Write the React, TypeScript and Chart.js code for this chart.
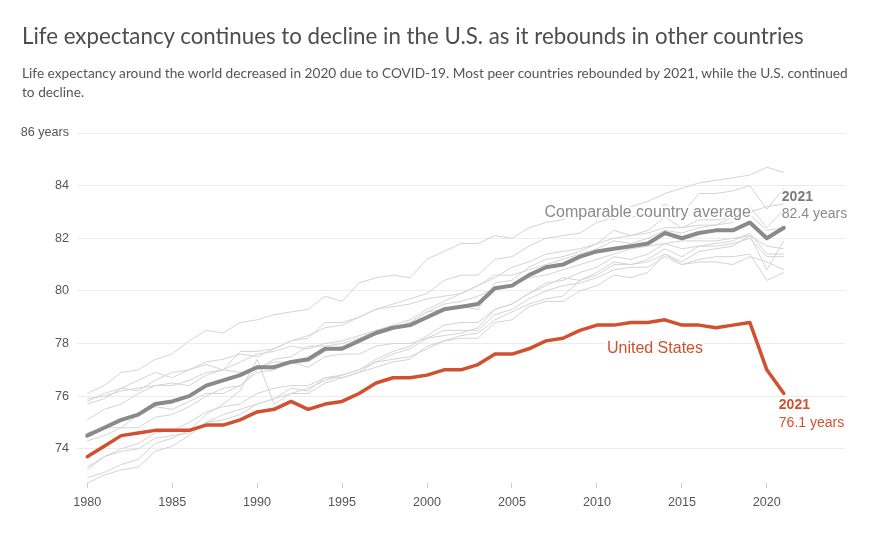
import React, { useEffect, useRef } from "react";
import { Chart, registerables } from "chart.js";

Chart.register(...registerables);

const years = [
  1980, 1981, 1982, 1983, 1984, 1985, 1986, 1987, 1988, 1989,
  1990, 1991, 1992, 1993, 1994, 1995, 1996, 1997, 1998, 1999,
  2000, 2001, 2002, 2003, 2004, 2005, 2006, 2007, 2008, 2009,
  2010, 2011, 2012, 2013, 2014, 2015, 2016, 2017, 2018, 2019,
  2020, 2021,
];

const usValues = [
  73.7, 74.1, 74.5, 74.6, 74.7, 74.7, 74.7, 74.9, 74.9, 75.1,
  75.4, 75.5, 75.8, 75.5, 75.7, 75.8, 76.1, 76.5, 76.7, 76.7,
  76.8, 77.0, 77.0, 77.2, 77.6, 77.6, 77.8, 78.1, 78.2, 78.5,
  78.7, 78.7, 78.8, 78.8, 78.9, 78.7, 78.7, 78.6, 78.7, 78.8,
  77.0, 76.1,
];

const averageValues = [
  74.5, 74.8, 75.1, 75.3, 75.7, 75.8, 76.0, 76.4, 76.6, 76.8,
  77.1, 77.1, 77.3, 77.4, 77.8, 77.8, 78.1, 78.4, 78.6, 78.7,
  79.0, 79.3, 79.4, 79.5, 80.1, 80.2, 80.6, 80.9, 81.0, 81.3,
  81.5, 81.6, 81.7, 81.8, 82.2, 82.0, 82.2, 82.3, 82.3, 82.6,
  82.0, 82.4,
];

const japan = [
  76.1, 76.4, 76.9, 77.0, 77.4, 77.6, 78.1, 78.5, 78.4, 78.8,
  78.9, 79.1, 79.2, 79.3, 79.8, 79.6, 80.3, 80.5, 80.6, 80.5,
  81.2, 81.5, 81.8, 81.8, 82.1, 82.0, 82.4, 82.6, 82.7, 83.0,
  82.9, 82.7, 83.2, 83.4, 83.7, 83.9, 84.1, 84.2, 84.3, 84.4,
  84.7, 84.5,
];
const switzerland = [
  75.7, 75.9, 76.3, 76.2, 76.6, 76.9, 77.0, 77.3, 77.4, 77.6,
  77.5, 77.8, 78.1, 78.3, 78.6, 78.7, 79.0, 79.3, 79.5, 79.7,
  79.9, 80.4, 80.6, 80.6, 81.2, 81.3, 81.7, 82.0, 82.1, 82.2,
  82.6, 82.8, 82.8, 82.9, 83.3, 82.9, 83.7, 83.7, 83.8, 84.0,
  83.1, 83.9,
];
const australia = [
  74.6, 74.8, 74.8, 75.3, 75.6, 75.5, 75.8, 76.1, 76.1, 76.4,
  77.0, 77.4, 77.5, 77.9, 77.9, 78.0, 78.2, 78.5, 78.7, 78.9,
  79.3, 79.6, 79.9, 80.2, 80.5, 80.9, 81.1, 81.4, 81.5, 81.6,
  81.8, 82.0, 82.1, 82.2, 82.4, 82.4, 82.5, 82.5, 82.8, 83.0,
  83.2, 83.3,
];
const sweden = [
  75.8, 76.1, 76.3, 76.6, 76.9, 76.7, 77.0, 77.2, 77.0, 77.7,
  77.7, 77.8, 78.1, 78.2, 78.8, 78.8, 79.0, 79.3, 79.4, 79.5,
  79.7, 79.8, 79.9, 80.2, 80.6, 80.6, 80.8, 81.0, 81.2, 81.4,
  81.6, 81.9, 81.8, 82.0, 82.3, 82.2, 82.4, 82.5, 82.6, 83.2,
  82.4, 83.1,
];
const france = [
  74.3, 74.5, 74.8, 74.8, 75.2, 75.3, 75.6, 76.0, 76.3, 76.4,
  76.9, 77.0, 77.3, 77.3, 77.7, 77.9, 78.1, 78.4, 78.6, 78.8,
  79.2, 79.3, 79.4, 79.3, 80.3, 80.4, 80.9, 81.2, 81.3, 81.5,
  81.8, 82.3, 82.1, 82.3, 82.8, 82.4, 82.7, 82.7, 82.8, 82.9,
  82.3, 82.4,
];
const netherlands = [
  75.9, 76.0, 76.2, 76.3, 76.4, 76.5, 76.4, 76.8, 77.0, 76.9,
  77.1, 77.3, 77.3, 77.1, 77.5, 77.6, 77.6, 77.9, 78.0, 78.0,
  78.2, 78.3, 78.4, 78.6, 79.3, 79.5, 79.9, 80.3, 80.4, 80.7,
  80.9, 81.3, 81.2, 81.4, 81.8, 81.6, 81.7, 81.8, 81.9, 82.2,
  81.4, 81.4,
];
const canada = [
  75.1, 75.5, 75.7, 76.1, 76.4, 76.4, 76.6, 76.9, 77.0, 77.3,
  77.6, 77.7, 77.9, 77.8, 78.0, 78.1, 78.3, 78.5, 78.6, 78.8,
  79.2, 79.5, 79.6, 79.8, 80.1, 80.2, 80.5, 80.6, 80.8, 81.0,
  81.2, 81.4, 81.6, 81.7, 81.8, 81.9, 81.9, 81.9, 82.0, 82.1,
  81.7, 81.6,
];
const austria = [
  72.7, 73.0, 73.2, 73.3, 73.9, 74.1, 74.5, 75.0, 75.3, 75.5,
  75.7, 75.9, 76.1, 76.3, 76.6, 76.8, 77.0, 77.4, 77.7, 77.9,
  78.3, 78.7, 78.8, 78.8, 79.3, 79.5, 79.9, 80.2, 80.5, 80.4,
  80.7, 81.1, 81.0, 81.2, 81.6, 81.3, 81.7, 81.7, 81.8, 82.0,
  81.3, 81.3,
];
const belgium = [
  73.3, 73.7, 74.0, 74.2, 74.6, 74.7, 75.0, 75.4, 75.6, 75.7,
  76.1, 76.3, 76.4, 76.4, 76.7, 76.8, 77.0, 77.3, 77.4, 77.5,
  77.8, 78.1, 78.2, 78.2, 78.8, 78.9, 79.4, 79.6, 79.6, 80.0,
  80.2, 80.6, 80.5, 80.7, 81.4, 81.1, 81.5, 81.6, 81.7, 82.1,
  80.8, 81.9,
];
const unitedKingdom = [
  73.2, 73.7, 73.9, 74.0, 74.4, 74.5, 74.6, 75.0, 75.1, 75.3,
  75.7, 75.9, 76.3, 76.2, 76.7, 76.7, 76.9, 77.1, 77.3, 77.4,
  77.9, 78.1, 78.3, 78.4, 78.9, 79.2, 79.5, 79.7, 79.8, 80.4,
  80.6, 81.0, 81.0, 81.1, 81.4, 81.0, 81.2, 81.3, 81.3, 81.4,
  80.4, 80.7,
];
const germany = [
  72.9, 73.1, 73.4, 73.6, 74.2, 74.4, 74.7, 75.3, 75.7, 76.2,
  77.4, 75.7, 76.1, 76.1, 76.5, 76.7, 76.9, 77.3, 77.6, 77.8,
  78.2, 78.5, 78.5, 78.5, 79.1, 79.3, 79.7, 80.0, 80.2, 80.3,
  80.5, 80.8, 80.9, 80.9, 81.3, 81.0, 81.1, 81.1, 81.0, 81.3,
  81.1, 80.8,
];

const countryNames = [
  "Japan", "Switzerland", "Australia", "Sweden", "France", "Netherlands",
  "Canada", "Austria", "Belgium", "United Kingdom", "Germany",
];
const countrySeries = [
  japan, switzerland, australia, sweden, france, netherlands,
  canada, austria, belgium, unitedKingdom, germany,
];

const yTicks = [74, 76, 78, 80, 82, 84, 86];
const xTicks = [1980, 1985, 1990, 1995, 2000, 2005, 2010, 2015, 2020];

const US_COLOR = "#d0502f";
const AVG_COLOR = "#8a8a8a";
const COUNTRY_COLOR = "#d4d4d4";
const SANS = "'Liberation Sans', Arial, Helvetica, sans-serif";

const toPoints = (vals: number[]) => years.map((yr, i) => ({ x: yr, y: vals[i] }));

function haloText(ctx: CanvasRenderingContext2D, text: string, x: number, y: number) {
  ctx.save();
  ctx.strokeStyle = "#ffffff";
  ctx.lineWidth = 4;
  ctx.lineJoin = "round";
  ctx.strokeText(text, x, y);
  ctx.restore();
  ctx.fillText(text, x, y);
}

const labelPlugin = {
  id: "endLabels",
  afterDatasetsDraw(chart: any) {
    const { ctx, scales } = chart;
    const xs = scales.x;
    const ys = scales.y;
    const last = years.length - 1;
    const endX = xs.getPixelForValue(years[last]);
    const i2019 = years.indexOf(2019);
    const i2010 = years.indexOf(2010);

    ctx.save();
    ctx.textBaseline = "middle";

    // Comparable country average label
    ctx.font = `16px ${SANS}`;
    ctx.fillStyle = "#8a8a8a";
    ctx.textAlign = "right";
    haloText(
      ctx,
      "Comparable country average",
      xs.getPixelForValue(years[i2019]) + 1,
      ys.getPixelForValue(averageValues[i2019]) - 10
    );

    // Average end label
    const avgEndY = ys.getPixelForValue(averageValues[last]);
    ctx.textAlign = "left";
    ctx.font = `bold 14px ${SANS}`;
    ctx.fillStyle = "#7a7a7a";
    haloText(ctx, String(years[last]), endX - 2, avgEndY - 31);
    ctx.font = `14px ${SANS}`;
    ctx.fillStyle = "#8a8a8a";
    haloText(ctx, `${averageValues[last].toFixed(1)} years`, endX - 2, avgEndY - 14);

    // United States label
    ctx.font = `16px ${SANS}`;
    ctx.fillStyle = US_COLOR;
    haloText(
      ctx,
      "United States",
      xs.getPixelForValue(years[i2010]) + 10,
      ys.getPixelForValue(usValues[i2010]) + 23
    );

    // US end label
    const usEndY = ys.getPixelForValue(usValues[last]);
    ctx.font = `bold 14px ${SANS}`;
    haloText(ctx, String(years[last]), endX - 5, usEndY + 12);
    ctx.font = `14px ${SANS}`;
    haloText(ctx, `${usValues[last].toFixed(1)} years`, endX - 5, usEndY + 30);

    ctx.restore();
  },
};

export default function App() {
  const canvasRef = useRef<HTMLCanvasElement>(null);

  useEffect(() => {
    const canvas = canvasRef.current;
    if (!canvas) return;

    const datasets: any[] = [
      {
        label: "United States",
        data: toPoints(usValues),
        borderColor: US_COLOR,
        borderWidth: 3.5,
        borderJoinStyle: "round",
        borderCapStyle: "round",
      },
      {
        label: "Comparable country average",
        data: toPoints(averageValues),
        borderColor: AVG_COLOR,
        borderWidth: 4,
        borderJoinStyle: "round",
        borderCapStyle: "round",
      },
      ...countrySeries.map((vals, i) => ({
        label: countryNames[i],
        data: toPoints(vals),
        borderColor: COUNTRY_COLOR,
        borderWidth: 1,
      })),
    ];

    const chart = new Chart(canvas, {
      type: "line",
      data: { datasets },
      options: {
        animation: false,
        responsive: false,
        maintainAspectRatio: false,
        layout: { padding: { top: 133, right: 35, bottom: 0, left: 0 } },
        elements: { point: { radius: 0, hoverRadius: 0 }, line: { tension: 0, fill: false } },
        plugins: {
          legend: { display: false },
          tooltip: { enabled: false },
          title: { display: false },
        },
        events: [],
        scales: {
          x: {
            type: "linear",
            min: 1979.4,
            max: 2024.6,
            afterBuildTicks: (s: any) => {
              s.ticks = xTicks.map((v) => ({ value: v }));
            },
            afterFit: (s: any) => {
              s.height = 50;
            },
            grid: {
              drawOnChartArea: false,
              drawTicks: true,
              tickLength: 5,
              color: "#cccccc",
              lineWidth: 1,
            },
            border: { display: false },
            ticks: {
              padding: 7,
              color: "#555555",
              autoSkip: false,
              maxRotation: 0,
              font: { family: SANS, size: 12.6 },
              callback: (v: any) => String(v),
            },
          },
          y: {
            type: "linear",
            min: 72.7,
            max: 86,
            afterBuildTicks: (s: any) => {
              s.ticks = yTicks.map((v) => ({ value: v }));
            },
            afterFit: (s: any) => {
              s.width = 77;
            },
            grid: { color: "#ececec", lineWidth: 1, drawTicks: false },
            border: { display: false },
            ticks: {
              padding: 8,
              color: "#555555",
              font: { family: SANS, size: 12.6 },
              callback: (v: any) => (v === 86 ? "86 years" : String(v)),
            },
          },
        },
      } as any,
      plugins: [labelPlugin],
    });

    return () => chart.destroy();
  }, []);

  return (
    <div
      style={{
        position: "absolute",
        left: 0,
        top: 0,
        width: 880,
        height: 533,
        background: "#ffffff",
        overflow: "hidden",
      }}
    >
      <canvas
        ref={canvasRef}
        width={880}
        height={533}
        style={{ position: "absolute", left: 0, top: 0, width: 880, height: 533, display: "block" }}
      />
      <div
        style={{
          position: "absolute",
          left: 22,
          top: 22.5,
          fontFamily: "Lato, sans-serif",
          fontSize: 22.3,
          lineHeight: "26.8px",
          color: "#4d4d4d",
          whiteSpace: "nowrap",
        }}
      >
        Life expectancy continues to decline in the U.S. as it rebounds in other countries
      </div>
      <div
        style={{
          position: "absolute",
          left: 22,
          top: 62.5,
          fontFamily: "Lato, sans-serif",
          fontSize: 13.7,
          lineHeight: "19px",
          color: "#555555",
          whiteSpace: "nowrap",
        }}
      >
        Life expectancy around the world decreased in 2020 due to COVID-19. Most peer countries rebounded by 2021, while the U.S. continued
        <br />
        to decline.
      </div>
    </div>
  );
}
